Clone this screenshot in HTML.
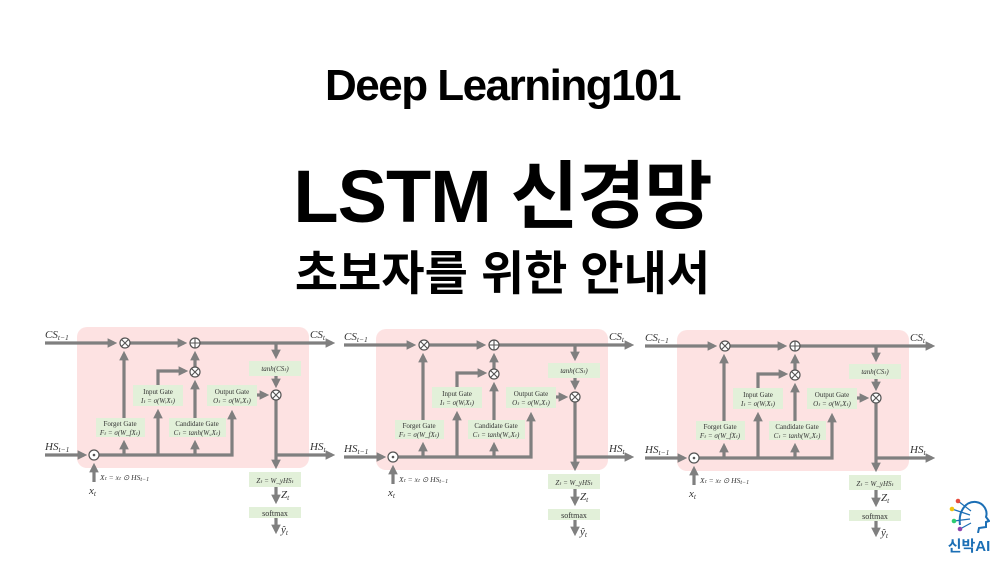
<!DOCTYPE html>
<html><head><meta charset="utf-8"><style>
html,body{margin:0;padding:0;background:#fff;width:1005px;height:565px;overflow:hidden}
.t{position:absolute;left:0;width:1005px;text-align:center;font-family:"Liberation Sans","Noto Sans CJK KR",sans-serif;color:#000}
svg text{font-family:"Liberation Serif",serif;fill:#333}
</style></head><body>
<div class="t" style="top:61px;font-size:44px;font-weight:bold;letter-spacing:-1.5px">Deep Learning101</div>
<div class="t" style="top:137px;font-size:74px;font-weight:bold;letter-spacing:-1px">LSTM 신경망</div>
<div class="t" style="top:235px;font-size:47px;font-weight:bold">초보자를 위한 안내서</div>
<svg id="s" width="1005" height="565" style="position:absolute;left:0;top:0">
<defs><marker id="a" markerWidth="3" markerHeight="3" refX="2" refY="1.5" orient="auto" markerUnits="strokeWidth"><path d="M0,0 L3,1.5 L0,3z" fill="#7f7f7f"/></marker></defs>
<g id="d">
<rect x="77" y="327" width="232" height="141" rx="10" fill="#fde2e2"/>
<g stroke="#7f7f7f" stroke-width="3.2" fill="none">
<line x1="45" y1="343" x2="114" y2="343" marker-end="url(#a)"/>
<line x1="130" y1="343" x2="184" y2="343" marker-end="url(#a)"/>
<line x1="200" y1="343" x2="332" y2="343" marker-end="url(#a)"/>
<line x1="276" y1="343" x2="276" y2="356" marker-end="url(#a)"/>
<line x1="276" y1="376" x2="276" y2="385" marker-end="url(#a)"/>
<line x1="257" y1="395" x2="266" y2="395" marker-end="url(#a)"/>
<polyline points="158,385 158,371 185,371" marker-end="url(#a)"/>
<line x1="195" y1="419" x2="195" y2="383" marker-end="url(#a)"/>
<line x1="195" y1="367" x2="195" y2="354" marker-end="url(#a)"/>
<line x1="124" y1="418" x2="124" y2="354" marker-end="url(#a)"/>
<line x1="45" y1="455" x2="84" y2="455" marker-end="url(#a)"/>
<polyline points="99,455 232,455 232,413" marker-end="url(#a)"/>
<line x1="124" y1="455" x2="124" y2="443" marker-end="url(#a)"/>
<line x1="158" y1="455" x2="158" y2="412" marker-end="url(#a)"/>
<line x1="195" y1="455" x2="195" y2="443" marker-end="url(#a)"/>
<line x1="276" y1="400" x2="276" y2="466" marker-end="url(#a)"/>
<line x1="276" y1="455" x2="332" y2="455" marker-end="url(#a)"/>
<line x1="276" y1="487" x2="276" y2="501" marker-end="url(#a)"/>
<line x1="276" y1="518" x2="276" y2="531" marker-end="url(#a)"/>
<line x1="94" y1="482" x2="94" y2="466" marker-end="url(#a)"/>
</g>
<g fill="#fff" stroke="#555" stroke-width="1.2">
<circle cx="125" cy="343" r="5"/><circle cx="195" cy="343" r="5"/><circle cx="195" cy="372" r="5"/><circle cx="276" cy="395" r="5"/><circle cx="94" cy="455" r="5"/>
</g>
<g stroke="#555" stroke-width="1.1">
<path d="M121.5,339.5l7,7M128.5,339.5l-7,7M191.5,368.5l7,7M198.5,368.5l-7,7M272.5,391.5l7,7M279.5,391.5l-7,7M190,343h10M195,338v10"/>
</g>
<circle cx="94" cy="455" r="1.3" fill="#555"/>
<g fill="#e2f0d9">
<rect x="249" y="361" width="52" height="15"/><rect x="207" y="385" width="50" height="21"/>
<rect x="133" y="385" width="50" height="21"/><rect x="96" y="418" width="49" height="19"/>
<rect x="169" y="418" width="57" height="19"/><rect x="249" y="472" width="52" height="15"/>
<rect x="249" y="507" width="52" height="11"/>
</g>
<g font-size="7" text-anchor="middle">
<text x="275" y="371" font-style="italic">tanh(CSₜ)</text>
<text x="232" y="394">Output Gate</text><text x="232" y="403" font-style="italic">Oₜ = σ(WₒXₜ)</text>
<text x="158" y="394">Input Gate</text><text x="158" y="403" font-style="italic">Iₜ = σ(WᵢXₜ)</text>
<text x="120" y="426">Forget Gate</text><text x="120" y="435" font-style="italic">Fₜ = σ(W_fXₜ)</text>
<text x="197" y="426">Candidate Gate</text><text x="197" y="435" font-style="italic">Cₜ = tanh(W꜀Xₜ)</text>
<text x="275" y="483" font-style="italic">Zₜ = W_yHSₜ</text>
<text x="275" y="516" font-size="8">softmax</text>
</g>
<g font-style="italic" font-size="11">
<text x="45" y="338">CS<tspan font-size="7.5" dy="2">t−1</tspan></text>
<text x="310" y="338">CS<tspan font-size="7.5" dy="2">t</tspan></text>
<text x="45" y="450">HS<tspan font-size="7.5" dy="2">t−1</tspan></text>
<text x="310" y="450">HS<tspan font-size="7.5" dy="2">t</tspan></text>
<text x="100" y="480" font-size="7.5">Xₜ = xₜ ⊙ HS<tspan font-size="6" dy="1">t−1</tspan></text>
<text x="89" y="494">x<tspan font-size="7.5" dy="2">t</tspan></text>
<text x="281" y="498">Z<tspan font-size="7.5" dy="2">t</tspan></text>
<text x="281" y="533">ŷ<tspan font-size="7.5" dy="2">t</tspan></text>
</g>
</g>
</svg>
<div style="position:absolute;left:946px;top:497px;width:44px;height:36px">
<svg width="44" height="36"><path d="M14,28 C12,14 20,4 30,5 C38,6 42,14 40,20 L43,24 L40,25 L40,30 L33,31 L32,36" fill="none" stroke="#1c6fb5" stroke-width="2"/>
<g stroke="#1c6fb5" stroke-width="1.2" fill="none"><path d="M25,14 L12,4 M24,18 L6,12 M24,22 L8,24 M25,26 L14,32"/></g>
<circle cx="12" cy="4" r="2.3" fill="#e84c3d"/><circle cx="6" cy="12" r="2.3" fill="#f1c40f"/><circle cx="8" cy="24" r="2.3" fill="#2ecc71"/><circle cx="14" cy="32" r="2.3" fill="#8e44ad"/></svg></div>
<div style="position:absolute;left:942px;top:535px;width:54px;text-align:center;font-family:'Liberation Sans','Noto Sans CJK KR',sans-serif;font-weight:bold;font-size:15px;color:#1c6fb5">신박AI</div>
<script>
var g=document.getElementById('d'),s=document.getElementById('s');
[[299,2],[600,3]].forEach(function(o){var c=g.cloneNode(true);c.removeAttribute('id');c.setAttribute('transform','translate('+o[0]+','+o[1]+')');s.appendChild(c);});
</script>
</body></html>
